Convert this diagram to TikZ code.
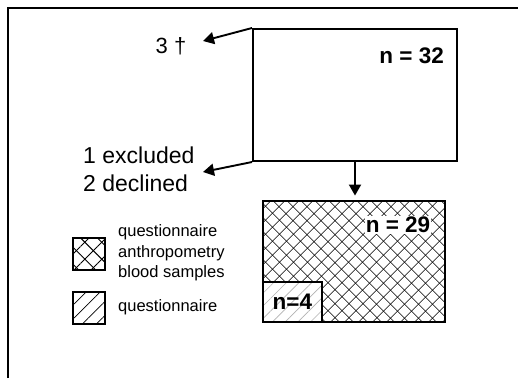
\documentclass[tikz,border=0pt]{standalone}
\usepackage{fontspec}
\setmainfont{Liberation Sans}
\usetikzlibrary{positioning,arrows.meta,patterns.meta}

\begin{document}
\begin{tikzpicture}[
      x=1pt, y=-1pt,
      box/.style={draw, line width=2pt, inner sep=0pt},
      crosshatch/.style={preaction={pattern={Lines[angle=45,distance=10.5pt,line width=.9pt]}},
                         pattern={Lines[angle=-45,distance=10.5pt,line width=.9pt]}},
      legcross/.style={preaction={pattern={Lines[angle=45,distance=12pt,line width=.9pt]}},
                       pattern={Lines[angle=-45,distance=12pt,line width=.9pt]}},
      slanted/.style={preaction={fill=white}, pattern={Lines[angle=45,distance=9pt,line width=.6pt]}, pattern color=gray!60},
      bigtext/.style={inner sep=0pt, align=left, font=\fontsize{23}{28}\selectfont},
      count/.style={inner sep=1pt, font=\fontsize{22.5}{26}\selectfont\bfseries},
      legtext/.style={inner sep=0pt, align=left, anchor=west, font=\fontsize{16.5}{20.5}\selectfont},
      arrow/.style={-{Triangle[length=11pt,width=12pt]}, line width=1.9pt}
    ]
    \useasboundingbox (0,0) rectangle (518,378);
    % frame
    \draw[line width=1.8pt] (8,378) -- (8,8) -- (518,8);

    \node[box, minimum width=204pt, minimum height=132pt] (total) at (355,95) {};
    \node[count, anchor=east] (n32) at ([shift={(-13,28)}]total.north east) {n = 32};

    \node[box, line width=2.4pt, crosshatch, minimum width=182pt, minimum height=121pt] (part) at (354,261.5) {};
    \node[count, fill=white, anchor=east] (n29) at ([shift={(-14,24)}]part.north east) {n = 29};
    \node[box, line width=2.2pt, slanted, minimum width=59pt, minimum height=40pt, count,
          anchor=south west] (sub) at (part.south west) {n=4};

    \node[bigtext, font=\fontsize{22}{26}\selectfont] (dead) at (171,46) {3 †};
    \node[bigtext, anchor=west] (excl) at (83,169) {1 excluded\\2 declined};
    \coordinate (deadtip) at (203,41);
    \coordinate (excltip) at (203,172);

    \draw[arrow] (total.north west) -- (deadtip);
    \draw[arrow] (total.south west) -- (excltip);
    \draw[arrow, shorten >=5pt] (total.south) -- (total.south |- part.north);

    % legend
    \node[box, line width=2.2pt, legcross, minimum size=32pt] (legall) at (89,254) {};
    \node[box, line width=2.2pt, pattern={Lines[angle=45,distance=10pt,line width=.7pt]},
          minimum size=32pt] (legq) at (89,308) {};
    \node[legtext] (legalltext) at (118,253) {questionnaire\\anthropometry\\blood samples};
    \node[legtext] (legqtext) at (118,307) {questionnaire};
  \end{tikzpicture}
\end{document}
